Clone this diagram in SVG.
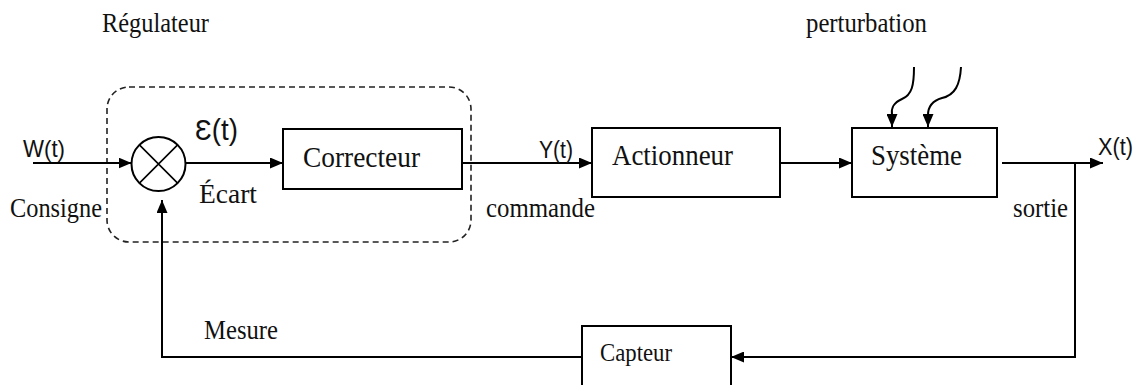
<svg xmlns="http://www.w3.org/2000/svg" width="1140" height="385" viewBox="0 0 1140 385">
  <defs>
    <marker id="arrow" markerUnits="userSpaceOnUse" markerWidth="13" markerHeight="11" refX="13" refY="5.5" orient="auto">
      <path d="M0,0 L13,5.5 L0,11 z" fill="#000"/>
    </marker>
    <style>
      .box { fill: #fff; stroke: #000; stroke-width: 2; }
      .wire { fill: none; stroke: #000; stroke-width: 2; }
      .serif { font-family: "Liberation Serif", "Times New Roman", serif; fill: #111; }
      .sans { font-family: "Liberation Sans", "DejaVu Sans", Arial, sans-serif; fill: #111; }
    </style>
  </defs>
  <rect width="1140" height="385" fill="#fff"/>

  <!-- controller boundary -->
  <g id="regulateur">
    <rect x="107" y="87" width="364" height="155" rx="22" ry="22" fill="none" stroke="#222" stroke-width="1.6" stroke-dasharray="6,4"/>
    <text class="serif" x="102" y="32" font-size="26.5" textLength="107" lengthAdjust="spacingAndGlyphs">Régulateur</text>
  </g>

  <!-- connectors -->
  <g id="connectors">
    <path class="wire" d="M33,163 H131.5" marker-end="url(#arrow)"/>
    <path class="wire" d="M185.5,163 H283" marker-end="url(#arrow)"/>
    <path class="wire" d="M462,163 H592" marker-end="url(#arrow)"/>
    <path class="wire" d="M780,163 H852" marker-end="url(#arrow)"/>
    <path class="wire" d="M1002,163 H1103" marker-end="url(#arrow)"/>
    <path class="wire" d="M1075,163 V357 H731" marker-end="url(#arrow)"/>
    <path class="wire" d="M582,357 H162 V200" marker-end="url(#arrow)"/>
    <path class="wire" d="M914,67 C914,85 912,95 902,99 C893,103 891,108 892,115 L892,127" marker-end="url(#arrow)"/>
    <path class="wire" d="M961,67 C960,85 955,95 942,98 C932,101 928,108 928,115 L928,127" marker-end="url(#arrow)"/>
  </g>

  <!-- summing junction -->
  <g id="comparateur">
    <circle cx="158.5" cy="164" r="27" fill="#fff" stroke="#000" stroke-width="2"/>
    <path d="M139.4,144.9 L177.6,183.1 M177.6,144.9 L139.4,183.1" stroke="#000" stroke-width="1.6"/>
  </g>

  <g id="correcteur">
    <rect class="box" x="283" y="129" width="179" height="60"/>
    <text class="serif" x="303" y="167" font-size="29.5" textLength="117" lengthAdjust="spacingAndGlyphs">Correcteur</text>
  </g>

  <g id="actionneur">
    <rect class="box" x="592" y="128" width="188" height="69"/>
    <text class="serif" x="612" y="165" font-size="29.5" textLength="121" lengthAdjust="spacingAndGlyphs">Actionneur</text>
  </g>

  <g id="systeme">
    <rect class="box" x="852" y="128" width="145" height="69"/>
    <text class="serif" x="871" y="165" font-size="29.5" textLength="91" lengthAdjust="spacingAndGlyphs">Système</text>
  </g>

  <g id="capteur">
    <rect class="box" x="582" y="326" width="149" height="66"/>
    <text class="serif" x="600" y="361" font-size="25" textLength="72" lengthAdjust="spacingAndGlyphs">Capteur</text>
  </g>

  <!-- signal labels -->
  <g id="labels">
    <text class="sans" x="23" y="157" font-size="24" textLength="42" lengthAdjust="spacingAndGlyphs">W(t)</text>
    <text class="serif" x="10" y="217" font-size="26.5" textLength="92" lengthAdjust="spacingAndGlyphs">Consigne</text>
    <text class="sans" x="195" y="140" font-size="30" textLength="43" lengthAdjust="spacingAndGlyphs">Ɛ(t)</text>
    <text class="serif" x="199" y="203" font-size="27.5" textLength="58" lengthAdjust="spacingAndGlyphs">Écart</text>
    <text class="sans" x="539" y="158" font-size="23.5" textLength="34" lengthAdjust="spacingAndGlyphs">Y(t)</text>
    <text class="serif" x="486" y="217" font-size="26.5" textLength="109" lengthAdjust="spacingAndGlyphs">commande</text>
    <text class="serif" x="806" y="32" font-size="26.5" textLength="121" lengthAdjust="spacingAndGlyphs">perturbation</text>
    <text class="sans" x="1098" y="155" font-size="23.5" textLength="35" lengthAdjust="spacingAndGlyphs">X(t)</text>
    <text class="serif" x="1013" y="217" font-size="26.5" textLength="55" lengthAdjust="spacingAndGlyphs">sortie</text>
    <text class="serif" x="204" y="339" font-size="26.5" textLength="74" lengthAdjust="spacingAndGlyphs">Mesure</text>
  </g>
</svg>
